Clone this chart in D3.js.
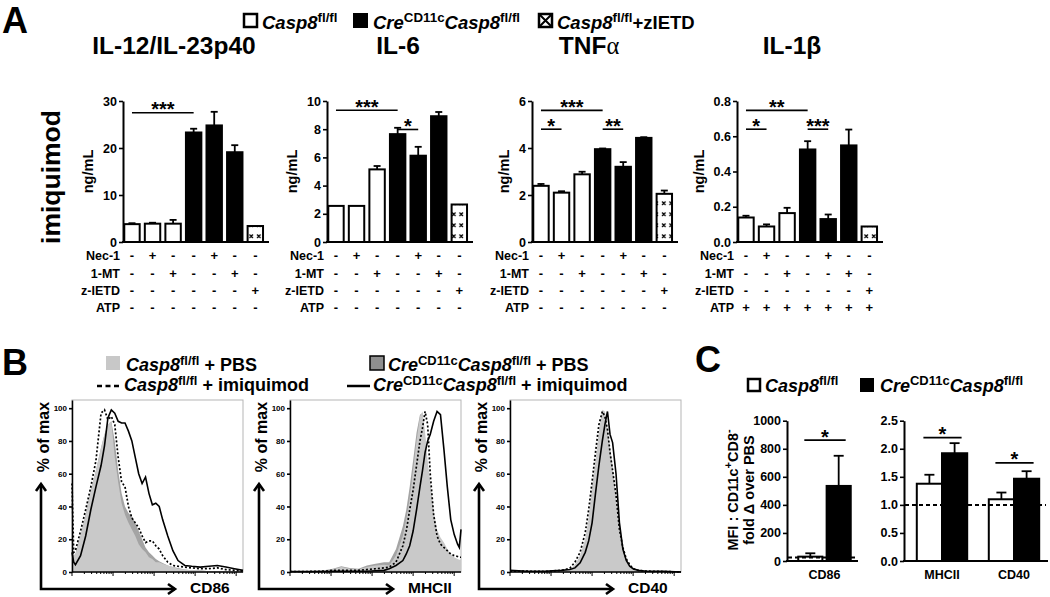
<!DOCTYPE html>
<html><head><meta charset="utf-8">
<script src="https://cdn.jsdelivr.net/npm/d3@7"></script>
<style>
body{margin:0;background:#fff;}
svg{font-family:"Liberation Sans",Arial,Helvetica,sans-serif;font-weight:bold;}
</style></head><body>
<svg id="chart" width="1050" height="597"></svg>
<script>
// ================= DATA =================
// Panel A : cytokines (ng/mL), 7 conditions
const barKinds = ["wt","wt","wt","cre","cre","cre","zietd"];
const il12Mean = [3.8, 3.9, 3.9, 23.3, 24.8, 19.1, 3.4];
const il12Sem  = [0.2, 0.2, 0.8, 0.8, 2.9, 1.5, 0];
const il6Mean  = [2.56, 2.56, 5.15, 7.65, 6.12, 8.92, 2.66];
const il6Sem   = [0, 0, 0.24, 0.45, 0.63, 0.3, 0];
const tnfMean  = [2.39, 2.10, 2.88, 3.95, 3.20, 4.43, 2.05];
const tnfSem   = [0.08, 0.06, 0.11, 0.03, 0.2, 0.03, 0.14];
const il1bMean = [0.139, 0.088, 0.164, 0.525, 0.130, 0.548, 0.088];
const il1bSem  = [0.010, 0.012, 0.030, 0.047, 0.026, 0.090, 0];
const il12Ticks = [0, 10, 20, 30];
const il6Ticks  = [0, 2, 4, 6, 8, 10];
const tnfTicks  = [0, 2, 4, 6];
const il1bTicks = [0, 0.2, 0.4, 0.6, 0.8];
// significance: [fromBar, toBar, value, label]
const il12Sig = [[0, 3, 27.5, "***"]];
const il6Sig  = [[0, 3, 9.34, "***"], [3, 4, 7.98, "*"]];
const tnfSig  = [[0, 3, 5.6, "***"], [0, 1, 4.8, "*"], [3, 4, 4.8, "**"]];
const il1bSig = [[0, 3, 0.747, "**"], [0, 1, 0.64, "*"], [3, 4, 0.64, "***"]];
const rowLabels = ["Nec-1", "1-MT", "z-IETD", "ATP"];
const nec1Row  = ["-", "+", "-", "-", "+", "-", "-"];
const mt1Row   = ["-", "-", "+", "-", "-", "+", "-"];
const zietdRow = ["-", "-", "-", "-", "-", "-", "+"];
const atpNoRow = ["-", "-", "-", "-", "-", "-", "-"];
const atpYesRow= ["+", "+", "+", "+", "+", "+", "+"];

// Panel B : histograms (% of max) on a common channel grid (0-100 % of scale)
const cd86Grid = [0,1,2,5,8,11,14,17,19,21,23,25,27,29,31,33,35,37,39,41,43,45,47,49,51,53,56,59,62,66,70,75,80,85,90,95,100];
const cd86CaspPBS = [12,10,11,22,35,50,62,76,84,90,92,70,55,42,35,30,26,22,17,14,12,9,8,6,6,5,4,3,2,1.5,1,1,0.5,0.5,0.3,0.2,0];
const cd86CrePBS  = [12,10,11,22,35,50,62,76,84,90,92,80,62,48,40,36,34,30,25,20,15,12,10,8,6.5,5.5,4,3,2.5,1.5,1,1,0.5,0.5,0.3,0.2,0];
const cd86CaspImq = [54,12,13,25,38,52,68,97,99,93,95,90,70,55,52,40,33,30,27,22,18,19,19,16,14,10,6,4,3.5,3,2.5,2,2,2.5,1.5,1,0.5];
const cd86CreImq  = [12,6,4.5,10,22,38,52,65,77,94,99,97,92,91,91,86,80,70,60,54,58,48,41,42,40,32,22,13,7,4,3.5,3,3.5,4,3,2,1];
const mhcGrid = [0,10,20,25,30,35,40,45,50,55,58,62,66,68,70,72,74,76,77.5,79,80.5,82,84,86,88,90,92,94,96,98,99,100];
const mhcCaspPBS = [0.5,0.5,1,1.5,3,2,1.5,3,4,4.5,4,10,22,32,45,62,80,95,98,85,68,55,38,26,21,18,14,11,9,8,7.5,7.5];
const mhcCrePBS  = [0.5,0.5,1,2,3.5,2.5,2,4,5,6,6,14,28,38,52,68,85,96,97,82,62,48,32,22,18,15,12,10,8,7,6.5,6.5];
const mhcCaspImq = [0.3,0.3,0.5,1,1,1,1,1.5,2,2.5,3,6,16,25,38,50,65,80,88,98,90,60,35,22,17,15,13,11,10,9.5,9,9];
const mhcCreImq  = [0.3,0.3,0.3,0.5,0.5,0.5,0.5,0.5,0.8,1,2,4,7,11,16,25,38,52,62,73,80,84,92,98,96,75,52,32,23,17,15,26];
const cd40Grid = [0,10,20,30,35,38,41,44,46,48,50,52,54,55.5,57,58.5,60,62,64,66,68,70,72,75,80,90,100];
const cd40CaspPBS = [0,0,0,0.5,1,4.5,10,20,33,52,68,86,99,98,87,76,65,47,31,16,8,4,2.5,0.8,0.3,0,0];
const cd40CrePBS  = [0,0,0,0.5,1,4,9,18,31,50,66,84,97,97,86,75,63,45,29,15,7,3.5,2,0.6,0.2,0,0];
const cd40CaspImq = [0.5,0.5,0.3,1,2.3,6,12,24,38,55,73,90,98,95,87,73,62,47,26,15,8,4.5,2,1,0.5,0.3,0];
const cd40CreImq  = [1,0.5,0.5,1,1.5,2.5,5.6,12,19,30,48,65,80,90,98,84,79,60,30,14,7,3.5,2,1,0.5,0.5,0];
const histTicks = [0, 20, 40, 60, 80, 100];
const histMarkers = ["CD86", "MHCII", "CD40"];

// Panel C : MFI fold change over PBS
const c1Groups = ["CD86"];
const c1WtMean = [31],  c1WtSem = [24];
const c1CreMean = [535], c1CreSem = [215];
const c1Ticks = [0, 200, 400, 600, 800, 1000];
const c1Baseline = 25;
const c1Sig = [[0, 862, "*"]];
const c2Groups = ["MHCII", "CD40"];
const c2WtMean = [1.377, 1.10], c2WtSem = [0.16, 0.12];
const c2CreMean = [1.92, 1.466], c2CreSem = [0.18, 0.134];
const c2Ticks = [0, 0.5, 1.0, 1.5, 2.0, 2.5];
const c2Baseline = 1.0;
const c2Sig = [[0, 2.2, "*"], [1, 1.75, "*"]];

// ================= HELPERS =================
const svg = d3.select("#chart");
const defs = svg.append("defs");
const hp = defs.append("pattern").attr("id", "hatch").attr("patternUnits", "userSpaceOnUse")
  .attr("width", 7.5).attr("height", 11);
hp.append("rect").attr("width", 7.5).attr("height", 11).attr("fill", "#fff");
hp.append("path").attr("d", "M2,3.5 L5.5,7 M5.5,3.5 L2,7").attr("stroke", "#000").attr("stroke-width", 1.2);

function rich(g, x, y, parts, size, anchor, raise) {
  const r = raise || 0.4;
  const t = g.append("text").attr("x", x).attr("y", y).attr("font-size", size)
    .attr("text-anchor", anchor || "start");
  let shifted = 0;
  parts.forEach(p => {
    const ts = t.append("tspan").text(p.t);
    let dy = 0;
    if (p.sup && !shifted) { dy = -size * r; shifted = 1; }
    else if (!p.sup && shifted) { dy = size * r; shifted = 0; }
    if (dy) ts.attr("dy", dy);
    if (p.sup) ts.attr("font-size", size * (p.scale || 0.72));
    if (p.it) ts.attr("font-style", "italic");
    if (p.w) ts.attr("font-weight", p.w);
    if (p.ff) ts.attr("font-family", p.ff);
  });
  return t;
}
const casp = [{t: "Casp8", it: 1}, {t: "fl/fl", sup: 1}];
const cre = [{t: "Cre", it: 1}, {t: "CD11c", sup: 1}, {t: "Casp8", it: 1}, {t: "fl/fl", sup: 1}];
function styleAxis(ax, fs) {
  ax.attr("font-family", null).attr("font-size", fs).attr("font-weight", "bold");
  ax.select(".domain").attr("stroke-width", 2);
  ax.selectAll(".tick line").attr("stroke-width", 1.6);
  ax.selectAll(".tick text").attr("fill", "#000");
}

// ================= PANEL A =================
svg.append("text").attr("x", 2).attr("y", 33).attr("font-size", 36).text("A");
const legA = svg.append("g");
legA.append("rect").attr("x", 244).attr("y", 14).attr("width", 13).attr("height", 13).attr("fill", "#fff").attr("stroke", "#000").attr("stroke-width", 2.5);
rich(legA, 262, 29, casp, 18.5);
legA.append("rect").attr("x", 353).attr("y", 13).attr("width", 15).attr("height", 15).attr("fill", "#000");
rich(legA, 373, 29, cre, 18.5);
legA.append("rect").attr("x", 539).attr("y", 14).attr("width", 13).attr("height", 13).attr("fill", "#fff").attr("stroke", "#000").attr("stroke-width", 2.5);
legA.append("path").attr("d", "M539,14 L552,27 M552,14 L539,27").attr("stroke", "#000").attr("stroke-width", 2);
rich(legA, 557, 29, casp.concat([{t: "+zIETD"}]), 18.5);

svg.append("text").attr("transform", "translate(60,177) rotate(-90)").attr("text-anchor", "middle")
  .attr("font-size", 26.5).text("imiquimod");

const chartAxisX = [123, 327, 532, 737];
const titleX = [174, 398, 589, 792];
const aTop = 101, aBottom = 242;
const rowY = [260, 277.5, 295, 312];
const chartsA = [
  {title: [{t: "IL-12/IL-23p40"}], mean: il12Mean, sem: il12Sem, ticks: il12Ticks, fmt: d3.format("d"), sig: il12Sig, atp: atpNoRow},
  {title: [{t: "IL-6"}], mean: il6Mean, sem: il6Sem, ticks: il6Ticks, fmt: d3.format("d"), sig: il6Sig, atp: atpNoRow},
  {title: [{t: "TNF"}, {t: "α", w: "normal", ff: "'Liberation Serif', serif"}], mean: tnfMean, sem: tnfSem, ticks: tnfTicks, fmt: d3.format("d"), sig: tnfSig, atp: atpNoRow},
  {title: [{t: "IL-1β"}], mean: il1bMean, sem: il1bSem, ticks: il1bTicks, fmt: d3.format(".1f"), sig: il1bSig, atp: atpYesRow}
];
chartsA.forEach((c, i) => {
  const ax = chartAxisX[i];
  const g = svg.append("g");
  const x = d3.scaleBand().domain(d3.range(c.mean.length)).range([ax - 1.3, ax + 142.6])
    .paddingInner(0.25).paddingOuter(0.125);
  const y = d3.scaleLinear().domain([0, c.ticks[c.ticks.length - 1]]).range([aBottom, aTop]);
  rich(g, titleX[i], 54, c.title, 24.5, "middle");
  const bw = x.bandwidth();
  // error bars
  c.mean.forEach((m, k) => {
    if (c.sem[k] > 0) {
      const cx = x(k) + bw / 2;
      g.append("line").attr("x1", cx).attr("x2", cx).attr("y1", y(m)).attr("y2", y(m + c.sem[k])).attr("stroke", "#000").attr("stroke-width", 1.8);
      g.append("line").attr("x1", cx - 3.5).attr("x2", cx + 3.5).attr("y1", y(m + c.sem[k])).attr("y2", y(m + c.sem[k])).attr("stroke", "#000").attr("stroke-width", 1.8);
    }
  });
  g.selectAll("rect.bar").data(c.mean).join("rect").attr("class", "bar")
    .attr("x", (d, k) => x(k)).attr("width", bw)
    .attr("y", d => y(d)).attr("height", d => aBottom - y(d))
    .attr("fill", (d, k) => barKinds[k] === "cre" ? "#000" : barKinds[k] === "zietd" ? "url(#hatch)" : "#fff")
    .attr("stroke", "#000").attr("stroke-width", 2);
  const yAx = g.append("g").attr("transform", `translate(${ax},0)`)
    .call(d3.axisLeft(y).tickValues(c.ticks).tickFormat(c.fmt).tickSize(4).tickSizeOuter(0).tickPadding(2));
  styleAxis(yAx, 12.5);
  g.append("line").attr("x1", ax - 1).attr("x2", ax + 146).attr("y1", aBottom).attr("y2", aBottom).attr("stroke", "#000").attr("stroke-width", 2);
  const bb = yAx.node().getBBox();
  g.append("text").attr("transform", `translate(${ax + bb.x - 10},${(aTop + aBottom) / 2}) rotate(-90)`)
    .attr("text-anchor", "middle").attr("font-size", 14.5).text("ng/mL");
  // significance
  c.sig.forEach(s => {
    const x1 = x(s[0]) + bw / 2, x2 = x(s[1]) + bw / 2, yy = y(s[2]);
    g.append("line").attr("x1", x1).attr("x2", x2).attr("y1", yy).attr("y2", yy).attr("stroke", "#000").attr("stroke-width", 1.6);
    g.append("text").attr("x", (x1 + x2) / 2).attr("y", yy + 3.5).attr("text-anchor", "middle").attr("font-size", 20).text(s[3]);
  });
  // treatment rows
  const rows = [nec1Row, mt1Row, zietdRow, c.atp];
  rows.forEach((r, ri) => {
    g.append("text").attr("x", ax - 3).attr("y", rowY[ri]).attr("text-anchor", "end").attr("font-size", 12.5).text(rowLabels[ri]);
    r.forEach((s, k) => g.append("text").attr("x", x(k) + bw / 2).attr("y", rowY[ri]).attr("text-anchor", "middle").attr("font-size", 13).text(s));
  });
});

// ================= PANEL B =================
svg.append("text").attr("x", 2).attr("y", 375).attr("font-size", 36).text("B");
const legB = svg.append("g");
legB.append("rect").attr("x", 106).attr("y", 356).attr("width", 14).attr("height", 14).attr("fill", "#c8c8c8");
rich(legB, 126, 371, casp.concat([{t: " + PBS"}]), 18, "start", 0.36);
legB.append("line").attr("x1", 97).attr("x2", 120).attr("y1", 386).attr("y2", 386).attr("stroke", "#000").attr("stroke-width", 2.5).attr("stroke-dasharray", "5,3.5");
rich(legB, 124, 391, casp.concat([{t: " + imiquimod"}]), 18, "start", 0.36);
legB.append("rect").attr("x", 370).attr("y", 356).attr("width", 14).attr("height", 14).attr("fill", "#8f8f8f").attr("stroke", "#000").attr("stroke-width", 1.5);
rich(legB, 388, 371, cre.concat([{t: " + PBS"}]), 18, "start", 0.36);
legB.append("line").attr("x1", 347).attr("x2", 370).attr("y1", 386).attr("y2", 386).attr("stroke", "#000").attr("stroke-width", 2.5);
rich(legB, 373, 391, cre.concat([{t: " + imiquimod"}]), 18, "start", 0.36);

const boxLeft = [72, 290, 510];
const boxW = 171, boxTop = 400, boxBottom = 572;
const histSets = [
  [cd86Grid, cd86CrePBS, cd86CaspPBS, cd86CaspImq, cd86CreImq],
  [mhcGrid, mhcCrePBS, mhcCaspPBS, mhcCaspImq, mhcCreImq],
  [cd40Grid, cd40CrePBS, cd40CaspPBS, cd40CaspImq, cd40CreImq]
];
histSets.forEach((hs, i) => {
  const L = boxLeft[i];
  const g = svg.append("g");
  const x = d3.scaleLinear().domain([0, 100]).range([L, L + boxW]);
  const y = d3.scaleLinear().domain([0, 105]).range([boxBottom, boxTop]);
  const grid = hs[0];
  const pts = arr => arr.map((v, k) => [grid[k], v]);
  const area = d3.area().x(d => x(d[0])).y0(y(0)).y1(d => y(d[1]));
  const line = d3.line().x(d => x(d[0])).y(d => y(d[1]));
  g.append("rect").attr("x", L).attr("y", boxTop).attr("width", boxW).attr("height", boxBottom - boxTop)
    .attr("fill", "none").attr("stroke", "#b5b5b5").attr("stroke-width", 1);
  g.append("path").attr("d", area(pts(hs[1]))).attr("fill", "#a4a4a4");
  g.append("path").attr("d", area(pts(hs[2]))).attr("fill", "#c9c9c9");
  g.append("path").attr("d", line(pts(hs[3]))).attr("fill", "none").attr("stroke", "#000").attr("stroke-width", 1.7).attr("stroke-dasharray", "2,2");
  g.append("path").attr("d", line(pts(hs[4]))).attr("fill", "none").attr("stroke", "#000").attr("stroke-width", 1.6);
  const yAx = g.append("g").attr("transform", `translate(${L},0)`)
    .call(d3.axisLeft(y).tickValues(histTicks).tickSize(3).tickSizeOuter(0).tickPadding(2));
  styleAxis(yAx, 8);
  yAx.select(".domain").attr("stroke-width", 1.5);
  // log-decade minor ticks on the channel axis
  const lg = d3.scaleLog().domain([1, Math.pow(10, 100 / 24)]).range([L, L + boxW]);
  const lt = lg.ticks().filter(v => lg(v) <= L + boxW);
  g.selectAll("line.mt").data(lt).join("line").attr("class", "mt")
    .attr("x1", d => lg(d)).attr("x2", d => lg(d)).attr("y1", boxBottom)
    .attr("y2", d => boxBottom + (Math.abs(Math.log10(d) % 1) < 1e-9 ? 4 : 2))
    .attr("stroke", "#000").attr("stroke-width", 1);
  g.append("line").attr("x1", L).attr("x2", L + boxW).attr("y1", boxBottom).attr("y2", boxBottom).attr("stroke", "#000").attr("stroke-width", 1.5);
  g.append("text").attr("transform", `translate(${L - 23.5},437) rotate(-90)`).attr("text-anchor", "middle").attr("font-size", 16).text("% of max");
  const ax0 = L - 31, ay = 589;
  g.append("path").attr("d", `M${ax0},484 L${ax0},${ay} L${L + 103},${ay}`).attr("fill", "none").attr("stroke", "#000").attr("stroke-width", 2.6);
  g.append("path").attr("d", `M${ax0 - 5},491 L${ax0},484 L${ax0 + 5},491`).attr("fill", "none").attr("stroke", "#000").attr("stroke-width", 2.6);
  g.append("path").attr("d", `M${L + 96},${ay - 5} L${L + 103},${ay} L${L + 96},${ay + 5}`).attr("fill", "none").attr("stroke", "#000").attr("stroke-width", 2.6);
  g.append("text").attr("x", L + 118).attr("y", 593).attr("font-size", 15.5).text(histMarkers[i]);
});

// ================= PANEL C =================
svg.append("text").attr("x", 695).attr("y", 372).attr("font-size", 36).text("C");
const legC = svg.append("g");
legC.append("rect").attr("x", 748).attr("y", 379).attr("width", 12).attr("height", 12).attr("fill", "#fff").attr("stroke", "#000").attr("stroke-width", 2.5);
rich(legC, 765, 392, casp, 18);
legC.append("rect").attr("x", 860).attr("y", 378).attr("width", 14).attr("height", 14).attr("fill", "#000");
rich(legC, 880, 392, cre, 18);

const cTop = 420.7, cBottom = 561;
function cChart(axX, axEnd, groups, wtM, wtS, creM, creS, ticks, fmt, baseline, sig, pi, po, subPi) {
  const g = svg.append("g");
  const x0 = d3.scaleBand().domain(groups).range([axX + 2, axEnd + 2]).paddingInner(pi).paddingOuter(po);
  const x1 = d3.scaleBand().domain(["wt", "cre"]).range([0, x0.bandwidth()]).paddingInner(subPi);
  const y = d3.scaleLinear().domain([0, ticks[ticks.length - 1]]).range([cBottom, cTop]);
  const bw = x1.bandwidth();
  const series = [["wt", wtM, wtS, "#fff"], ["cre", creM, creS, "#000"]];
  series.forEach(s => {
    groups.forEach((gr, k) => {
      const bx = x0(gr) + x1(s[0]), cx = bx + bw / 2;
      const top = y(s[1][k] + s[2][k]);
      g.append("line").attr("x1", cx).attr("x2", cx).attr("y1", y(s[1][k])).attr("y2", top).attr("stroke", "#000").attr("stroke-width", 1.8);
      g.append("line").attr("x1", cx - 5).attr("x2", cx + 5).attr("y1", top).attr("y2", top).attr("stroke", "#000").attr("stroke-width", 1.8);
      g.append("rect").attr("x", bx).attr("width", bw).attr("y", y(s[1][k])).attr("height", cBottom - y(s[1][k]))
        .attr("fill", s[3]).attr("stroke", "#000").attr("stroke-width", 2);
    });
  });
  g.append("line").attr("x1", axX + 1).attr("x2", axEnd - 2).attr("y1", y(baseline)).attr("y2", y(baseline))
    .attr("stroke", "#000").attr("stroke-width", 2).attr("stroke-dasharray", "4,3");
  const yAx = g.append("g").attr("transform", `translate(${axX},0)`)
    .call(d3.axisLeft(y).tickValues(ticks).tickFormat(fmt).tickSize(4).tickSizeOuter(0).tickPadding(2));
  styleAxis(yAx, 12.5);
  g.append("line").attr("x1", axX - 1).attr("x2", axEnd).attr("y1", cBottom).attr("y2", cBottom).attr("stroke", "#000").attr("stroke-width", 2);
  groups.forEach(gr => g.append("text").attr("x", x0(gr) + x0.bandwidth() / 2).attr("y", 579).attr("text-anchor", "middle").attr("font-size", 12.5).text(gr));
  sig.forEach(s => {
    const gr = groups[s[0]];
    const xa = x0(gr) + x1("wt") + bw / 2 - 6, xb = x0(gr) + x1("cre") + bw / 2 + 7, yy = y(s[1]);
    g.append("line").attr("x1", xa).attr("x2", xb).attr("y1", yy).attr("y2", yy).attr("stroke", "#000").attr("stroke-width", 1.8);
    g.append("text").attr("x", (xa + xb) / 2).attr("y", yy + 3.5).attr("text-anchor", "middle").attr("font-size", 20).text(s[2]);
  });
}
cChart(787, 858, c1Groups, c1WtMean, c1WtSem, c1CreMean, c1CreSem, c1Ticks, d3.format("d"), c1Baseline, c1Sig, 0.15, 0.15, 0.15);
cChart(904, 1048, c2Groups, c2WtMean, c2WtSem, c2CreMean, c2CreSem, c2Ticks, d3.format(".1f"), c2Baseline, c2Sig, 0.3, 0.15, 0);
const yl = svg.append("g");
rich(yl.append("g").attr("transform", "translate(738,490) rotate(-90)"), 0, 0,
  [{t: "MFI : CD11c"}, {t: "+", sup: 1, scale: 0.75}, {t: "CD8"}, {t: "-", sup: 1, scale: 0.75}], 14.5, "middle");
rich(yl.append("g").attr("transform", "translate(754,490) rotate(-90)"), 0, 0,
  [{t: "fold Δ over PBS"}], 14.5, "middle");
</script>
</body></html>
